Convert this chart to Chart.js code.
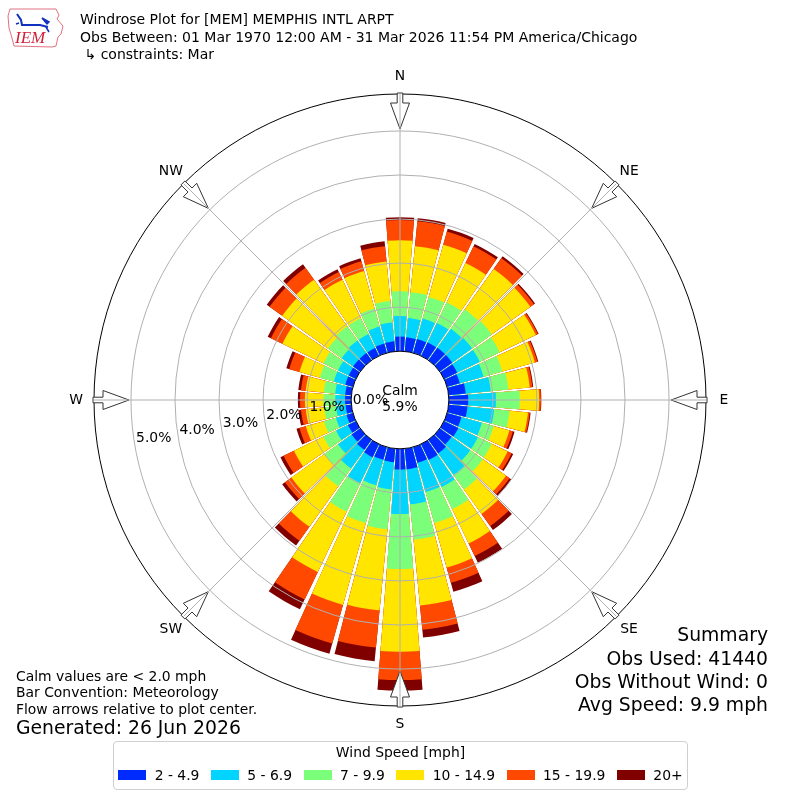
<!DOCTYPE html>
<html>
<head>
<meta charset="utf-8">
<title>Windrose Plot for [MEM] MEMPHIS INTL ARPT</title>
<script src="https://cdn.jsdelivr.net/npm/chart.js@4.4.1/dist/chart.umd.min.js"></script>
<style>
  body { margin: 0; background: #fff; }
  #page { position: relative; width: 800px; height: 800px; overflow: hidden; font-family: 'DejaVu Sans', sans-serif; color: #000; }
  #rose { position: absolute; left: 0; top: 0; }
  .txt { position: absolute; white-space: pre; line-height: 1; }
  .head { left: 80px; font-size: 14px; }
  .note { left: 16px; font-size: 13.9px; }
  .sum { right: 32px; font-size: 18.8px; text-align: right; }
  #legend { position: absolute; left: 113px; top: 741px; width: 573px; height: 47px; border: 1px solid #cfcfcf; border-radius: 4px; background: #fff; }
  #legend .ttl { position: absolute; left: 0; right: 0; top: 4px; text-align: center; font-size: 13.9px; line-height: 1; }
  #legend .items { position: absolute; left: 0; right: 0; top: 26px; display: flex; justify-content: center; font-size: 13.9px; line-height: 14px; white-space: nowrap; }
  #legend .item { display: flex; align-items: center; flex: none; margin: 0 5.8px; white-space: nowrap; }
  #legend .sw { display: inline-block; width: 28px; height: 10px; margin-right: 8.3px; flex: none; }
</style>
</head>
<body>
<div id="page">
  <canvas id="rose" width="800" height="800"></canvas>

  <svg style="position:absolute;left:6px;top:6px" width="62" height="44" viewBox="0 0 62 44">
    <path d="M4 3 L50 3 L53 9 L51 13 L57 20 L55 28 L52 31 L50 40 L46 41 L8 40 L6 32 L3 22 L2 10 Z" fill="none" stroke="#e07080" stroke-width="1"/>
    <path d="M11 8 L15 14 L16 19 L34 19 L42 21" fill="none" stroke="#1030c0" stroke-width="2"/>
    <path d="M36 12 L43 16 L41 18 Z M40 21 L43 26 M10 18 L13 17" fill="#1030c0" stroke="#1030c0" stroke-width="1.5"/>
    <text x="9" y="37" font-family="'Liberation Serif', serif" font-style="italic" font-size="17" fill="#d0203a">IEM</text>
  </svg>

  <div class="txt head" style="top:12px">Windrose Plot for [MEM] MEMPHIS INTL ARPT</div>
  <div class="txt head" style="top:30px">Obs Between: 01 Mar 1970 12:00 AM - 31 Mar 2026 11:54 PM America/Chicago</div>
  <div class="txt head" style="top:47px"> ↳ constraints: Mar</div>

  <div class="txt note" style="top:670px">Calm values are &lt; 2.0 mph</div>
  <div class="txt note" style="top:686px">Bar Convention: Meteorology</div>
  <div class="txt note" style="top:703px">Flow arrows relative to plot center.</div>
  <div class="txt note" style="top:719px;font-size:18.8px">Generated: 26 Jun 2026</div>

  <div class="txt sum" style="top:626px">Summary</div>
  <div class="txt sum" style="top:650px">Obs Used: 41440</div>
  <div class="txt sum" style="top:673px">Obs Without Wind: 0</div>
  <div class="txt sum" style="top:696px">Avg Speed: 9.9 mph</div>

  <div id="legend"><div class="ttl">Wind Speed [mph]</div><div class="items"></div></div>
</div>

<script>
// direction each bar points from (degrees, meteorological)
const directions = [0, 10, 20, 30, 40, 50, 60, 70, 80, 90, 100, 110, 120, 130, 140, 150, 160, 170,
  180, 190, 200, 210, 220, 230, 240, 250, 260, 270, 280, 290, 300, 310, 320, 330, 340, 350];
const compassNames = ['N', 'NE', 'E', 'SE', 'S', 'SW', 'W', 'NW'];
const speedBins = ['2 - 4.9', '5 - 6.9', '7 - 9.9', '10 - 14.9', '15 - 19.9', '20+'];

// percent of all observations, one value per direction
const speed2to5 = [0.33, 0.32, 0.33, 0.34, 0.35, 0.35, 0.33, 0.30, 0.39, 0.44, 0.43, 0.34, 0.36, 0.33, 0.38, 0.40, 0.37, 0.47,
  0.47, 0.31, 0.30, 0.33, 0.28, 0.24, 0.20, 0.15, 0.13, 0.14, 0.14, 0.18, 0.18, 0.20, 0.20, 0.20, 0.22, 0.23];
const speed5to7 = [0.47, 0.44, 0.48, 0.49, 0.53, 0.55, 0.57, 0.56, 0.57, 0.63, 0.61, 0.48, 0.49, 0.52, 0.60, 0.68, 0.69, 0.80,
  1.01, 0.62, 0.60, 0.65, 0.52, 0.38, 0.30, 0.25, 0.22, 0.22, 0.23, 0.27, 0.27, 0.32, 0.35, 0.35, 0.40, 0.43];
const speed7to10 = [0.56, 0.59, 0.51, 0.52, 0.54, 0.55, 0.50, 0.44, 0.40, 0.54, 0.35, 0.28, 0.35, 0.35, 0.41, 0.56, 0.73, 0.81,
  1.25, 0.91, 0.89, 0.72, 0.50, 0.38, 0.32, 0.28, 0.27, 0.27, 0.26, 0.33, 0.37, 0.38, 0.40, 0.40, 0.43, 0.49];
const speed10to15 = [1.16, 1.05, 1.23, 0.99, 1.13, 1.08, 0.91, 0.77, 0.49, 0.44, 0.42, 0.37, 0.40, 0.65, 0.68, 0.86, 1.05, 1.50,
  1.88, 1.85, 1.93, 1.52, 1.13, 0.92, 0.74, 0.43, 0.42, 0.42, 0.41, 0.48, 1.03, 1.28, 1.30, 0.97, 0.88, 0.90];
const speed15to20 = [0.46, 0.57, 0.31, 0.42, 0.30, 0.10, 0.05, 0.06, 0.06, 0.04, 0.04, 0.08, 0.10, 0.10, 0.34, 0.32, 0.36, 0.55,
  0.64, 0.85, 0.91, 0.69, 0.39, 0.18, 0.26, 0.15, 0.11, 0.11, 0.11, 0.24, 0.29, 0.35, 0.33, 0.19, 0.23, 0.35];
const speed20plus = [0.06, 0.07, 0.07, 0.06, 0.05, 0.03, 0.02, 0.02, 0.02, 0.01, 0.02, 0.04, 0.04, 0.05, 0.11, 0.17, 0.21, 0.18,
  0.24, 0.31, 0.24, 0.25, 0.13, 0.08, 0.08, 0.07, 0.06, 0.05, 0.06, 0.07, 0.08, 0.08, 0.10, 0.07, 0.07, 0.11];
const calmPercent = 5.9;

const radialTicks = [0, 1, 2, 3, 4, 5];
const axisMin = -1.11; // leaves the calm hole in the middle
const axisMax = 5.84;

const speedSeries = [speed2to5, speed5to7, speed7to10, speed10to15, speed15to20, speed20plus];
const binColors = ['#002bff', '#00d4ff', '#7bff7b', '#ffe500', '#ff4900', '#800000'];

const barSpan = 8.9; // degrees of each 10 degree sector
const gapSpan = 1.1;

// stacked look: each dataset holds the running total, inner ones drawn on top
const cumulative = speedSeries.map((series, i) => directions.map(
  (d, j) => speedSeries.slice(0, i + 1).reduce((sum, s) => sum + s[j], 0),
));

const datasets = speedBins.map((label, i) => ({
  label,
  data: cumulative[i].flatMap((v) => [v, null]),
  backgroundColor: binColors[i],
  borderWidth: 0,
  angle: (ctx) => (ctx.dataIndex % 2 === 0 ? barSpan : gapSpan),
}));

const gridColor = (v) => {
  if (Math.abs(v - axisMax) < 1e-6) return '#000';
  if (v >= 1 && Math.abs(v - Math.round(v)) < 1e-6) return '#b0b0b0';
  return 'rgba(0,0,0,0)';
};

const font = (size) => `${size}px "DejaVu Sans", sans-serif`;

const roseDecor = {
  id: 'roseDecor',
  afterDraw(chart) {
    const { ctx } = chart;
    const scale = chart.scales.r;
    const cx = scale.xCenter;
    const cy = scale.yCenter;
    const outer = scale.drawingArea;
    const at = (deg, r) => {
      const a = (deg * Math.PI) / 180;
      return [cx + r * Math.sin(a), cy - r * Math.cos(a)];
    };
    ctx.save();

    // flow arrows on the rim
    compassNames.forEach((name, k) => {
      const deg = k * 45;
      const a = (deg * Math.PI) / 180;
      const px = Math.cos(a);
      const py = Math.sin(a);
      const pt = (r, w) => {
        const [x, y] = at(deg, r);
        return [x + w * px, y + w * py];
      };
      const shape = [[outer + 1, -2.8], [outer - 9, -2.8], [outer - 9, -9.5], [outer - 35, 0],
        [outer - 9, 9.5], [outer - 9, 2.8], [outer + 1, 2.8]];
      ctx.beginPath();
      shape.forEach(([r, w], i) => {
        const [x, y] = pt(r, w);
        if (i === 0) ctx.moveTo(x, y); else ctx.lineTo(x, y);
      });
      ctx.closePath();
      ctx.fillStyle = '#fff';
      ctx.fill();
      ctx.strokeStyle = '#333';
      ctx.lineWidth = 1;
      ctx.stroke();
    });

    // compass spokes
    const r0 = scale.getDistanceFromCenterForValue(0);
    ctx.strokeStyle = '#b0b0b0';
    ctx.lineWidth = 1;
    compassNames.forEach((name, k) => {
      const [x1, y1] = at(k * 45, r0);
      const [x2, y2] = at(k * 45, outer);
      ctx.beginPath();
      ctx.moveTo(x1, y1);
      ctx.lineTo(x2, y2);
      ctx.stroke();
    });

    // calm circle
    ctx.beginPath();
    ctx.arc(cx, cy, r0, 0, Math.PI * 2);
    ctx.fillStyle = '#fff';
    ctx.fill();
    ctx.strokeStyle = '#000';
    ctx.stroke();

    ctx.fillStyle = '#000';
    ctx.font = font(13.9);
    ctx.textAlign = 'center';
    ctx.textBaseline = 'middle';
    ctx.fillText('Calm', cx, cy - 9);
    ctx.fillText(`${calmPercent.toFixed(1)}%`, cx, cy + 7.5);

    // radial tick labels along 260 degrees
    ctx.textAlign = 'left';
    radialTicks.forEach((v) => {
      const [x, y] = at(260, scale.getDistanceFromCenterForValue(v));
      ctx.fillText(`${v.toFixed(1)}%`, x + 1, y - 8.5);
    });

    // compass names
    ctx.textAlign = 'center';
    compassNames.forEach((name, k) => {
      const [x, y] = at(k * 45, outer + 18);
      ctx.fillText(name, x, y);
    });
    ctx.restore();
  },
};

new Chart(document.getElementById('rose'), {
  type: 'polarArea',
  data: {
    labels: directions.flatMap((d) => [`${d}°`, '']),
    datasets,
  },
  options: {
    responsive: false,
    animation: false,
    layout: { padding: 94 },
    plugins: {
      legend: { display: false },
      tooltip: { enabled: false },
    },
    scales: {
      r: {
        min: axisMin,
        max: axisMax,
        startAngle: -barSpan / 2,
        ticks: { display: false, stepSize: 1 },
        grid: { z: 1, circular: true, lineWidth: 1, color: (ctx) => gridColor(ctx.tick.value) },
        angleLines: { display: false },
        pointLabels: { display: false },
      },
    },
  },
  plugins: [roseDecor],
});

// legend from the same bins and colours
const items = document.querySelector('#legend .items');
speedBins.forEach((label, i) => {
  const item = document.createElement('div');
  item.className = 'item';
  const sw = document.createElement('span');
  sw.className = 'sw';
  sw.style.background = binColors[i];
  const txt = document.createElement('span');
  txt.textContent = label;
  item.append(sw, txt);
  items.append(item);
});
</script>
</body>
</html>
